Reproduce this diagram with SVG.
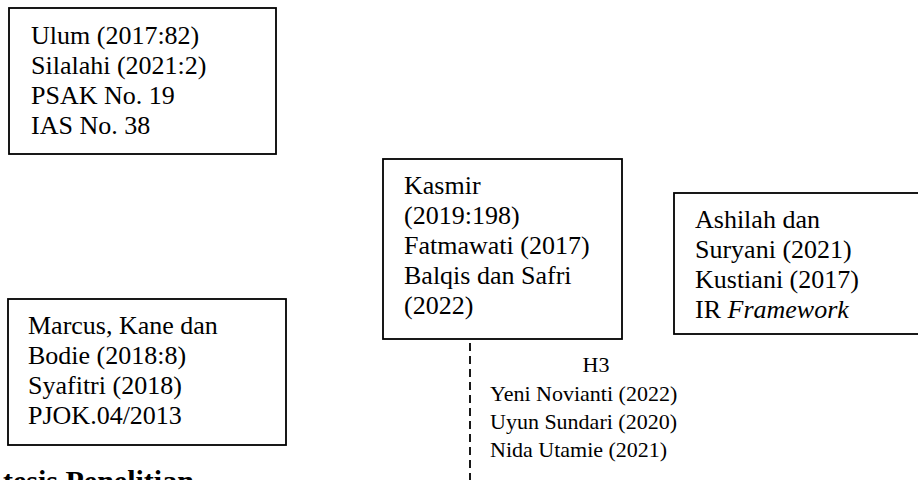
<svg xmlns="http://www.w3.org/2000/svg" width="918" height="480" viewBox="0 0 918 480">
<style>
.box{fill:#fff;stroke:#000;stroke-width:1.8}
.t{font-family:"Liberation Serif","Times New Roman",serif;font-size:26px;fill:#000}
.s{font-family:"Liberation Serif","Times New Roman",serif;font-size:22px;fill:#000}
.h{font-family:"Liberation Serif","Times New Roman",serif;font-size:30px;font-weight:bold;fill:#000}
.dash{stroke:#000;stroke-width:1.8;stroke-dasharray:8 5;fill:none}
</style>
<rect width="918" height="480" fill="#fff"/>
<g id="connectors">
<line class="dash" x1="470" y1="343" x2="470" y2="480"/>
</g>
<g id="node-ulum">
<rect class="box" x="9" y="8" width="267" height="146"/>
<text class="t" x="31" y="44">Ulum (2017:82)</text>
<text class="t" x="31" y="74">Silalahi (2021:2)</text>
<text class="t" x="31" y="104">PSAK No. 19</text>
<text class="t" x="31" y="134">IAS No. 38</text>
</g>
<g id="node-marcus">
<rect class="box" x="8" y="299" width="278" height="146"/>
<text class="t" x="28" y="334">Marcus, Kane dan</text>
<text class="t" x="28" y="364">Bodie (2018:8)</text>
<text class="t" x="28" y="394">Syafitri (2018)</text>
<text class="t" x="28" y="424">PJOK.04/2013</text>
</g>
<g id="node-kasmir">
<rect class="box" x="383" y="159" width="239" height="180"/>
<text class="t" x="404" y="194">Kasmir</text>
<text class="t" x="404" y="224">(2019:198)</text>
<text class="t" x="404" y="254">Fatmawati (2017)</text>
<text class="t" x="404" y="284">Balqis dan Safri</text>
<text class="t" x="404" y="314">(2022)</text>
</g>
<g id="node-ashilah">
<rect class="box" x="674" y="193" width="260" height="141"/>
<text class="t" x="695" y="228">Ashilah dan</text>
<text class="t" x="695" y="258">Suryani (2021)</text>
<text class="t" x="695" y="288">Kustiani (2017)</text>
<text class="t" x="695" y="318">IR <tspan font-style="italic">Framework</tspan></text>
</g>
<g id="node-h3">
<text class="s" x="596" y="372" text-anchor="middle">H3</text>
<text class="s" x="490" y="401">Yeni Novianti (2022)</text>
<text class="s" x="490" y="429">Uyun Sundari (2020)</text>
<text class="s" x="490" y="457">Nida Utamie (2021)</text>
</g>
<text class="h" x="3" y="491">tesis Penelitian</text>
</svg>
